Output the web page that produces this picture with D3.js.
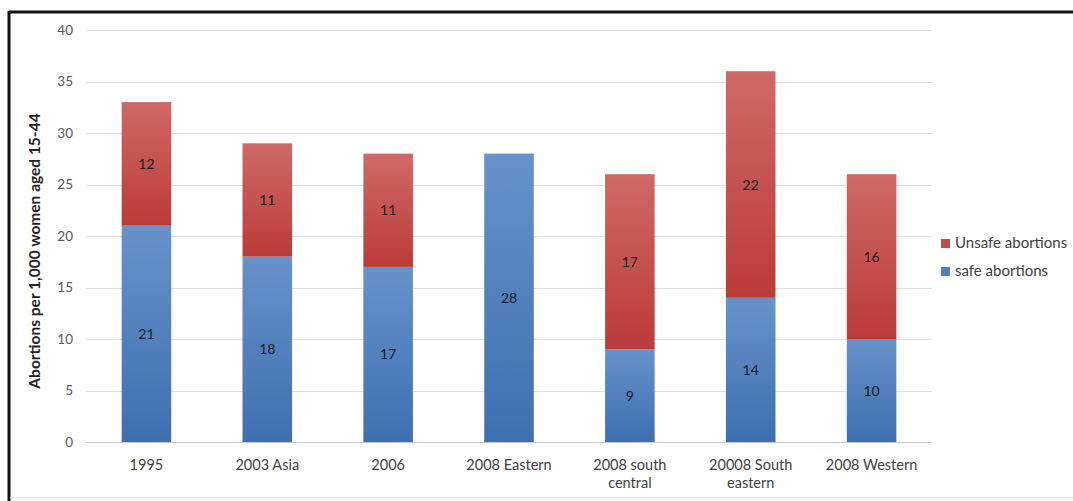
<!DOCTYPE html>
<html><head><meta charset="utf-8">
<script src="https://cdn.jsdelivr.net/npm/d3@7"></script>
<style>body{margin:0;background:#fff}svg{display:block;font-family:Lato,"Open Sans",sans-serif}</style>
</head><body><svg id="c" width="1073" height="501"></svg>
<script>
const categories = [["1995"],["2003 Asia"],["2006"],["2008 Eastern"],["2008 south","central"],["20008 South","eastern"],["2008 Western"]];
const safeValues = [21,18,17,28,9,14,10];
const unsafeValues = [12,11,11,0,17,22,16];
const yTicks = [0,5,10,15,20,25,30,35,40];
const seriesNames = ["Unsafe abortions","safe abortions"];

const svg = d3.select("#c");
const defs = svg.append("defs");
function grad(id, top, bot){
  const g = defs.append("linearGradient").attr("id",id).attr("x1",0).attr("y1",0).attr("x2",0).attr("y2",1);
  g.append("stop").attr("offset","0%").attr("stop-color",top);
  g.append("stop").attr("offset","100%").attr("stop-color",bot);
}
grad("gRed","#cf6966","#bb3b38");
grad("gBlue","#6792cb","#3e6fb0");

// frame
svg.append("line").attr("x1",9).attr("x2",1073).attr("y1",12).attr("y2",12).attr("stroke","#111").attr("stroke-width",3);
svg.append("line").attr("x1",9).attr("x2",9).attr("y1",11).attr("y2",501).attr("stroke","#111").attr("stroke-width",3);
svg.append("line").attr("x1",10).attr("x2",1073).attr("y1",497.5).attr("y2",497.5).attr("stroke","#e4e4e4").attr("stroke-width",1);

const x = d3.scaleBand().domain(d3.range(categories.length)).range([86,932]).paddingInner(0.59).paddingOuter(0.295);
const y = d3.scaleLinear().domain([0,40]).range([442,30]);

// grid
svg.append("g").selectAll("line").data(yTicks).join("line")
  .attr("x1",86).attr("x2",932).attr("y1",d=>Math.round(y(d))+0.5).attr("y2",d=>Math.round(y(d))+0.5)
  .attr("stroke",d=>d===0?"#c8c8c8":"#e0e0e0").attr("stroke-width",1);

// y axis labels
const yAxis = d3.axisLeft(y).tickValues(yTicks).tickSize(0).tickPadding(0);
const ya = svg.append("g").attr("transform","translate(73,0)").call(yAxis);
ya.select(".domain").remove();
ya.selectAll("text").attr("font-size",13.5).attr("fill","#595959").attr("font-family","Lato,sans-serif");

// y title
svg.append("text").attr("transform","translate(40,251) rotate(-90)").attr("text-anchor","middle")
  .attr("font-size",15.5).attr("font-weight","bold").attr("fill","#222").text("Abortions per 1,000 women aged 15-44");

// bars
const bars = svg.append("g");
categories.forEach((c,i)=>{
  const s = safeValues[i], u = unsafeValues[i];
  bars.append("rect").attr("x",x(i)).attr("width",x.bandwidth()).attr("y",y(s)).attr("height",y(0)-y(s)).attr("fill","url(#gBlue)");
  if(u>0) bars.append("rect").attr("x",x(i)).attr("width",x.bandwidth()).attr("y",y(s+u)).attr("height",y(s)-y(s+u)).attr("fill","url(#gRed)");
  bars.append("text").attr("x",x(i)+x.bandwidth()/2).attr("y",y(s/2)+5).attr("text-anchor","middle").attr("font-size",14).attr("fill","#1a1a1a").text(s);
  if(u>0) bars.append("text").attr("x",x(i)+x.bandwidth()/2).attr("y",y(s+u/2)+5).attr("text-anchor","middle").attr("font-size",14).attr("fill","#1a1a1a").text(u);
});

// x labels
const xl = svg.append("g");
categories.forEach((c,i)=>{
  const t = xl.append("text").attr("x",x(i)+x.bandwidth()/2).attr("y",470).attr("text-anchor","middle").attr("font-size",14.5).attr("fill","#404040");
  c.forEach((line,j)=>t.append("tspan").attr("x",x(i)+x.bandwidth()/2).attr("dy",j===0?0:18).text(line));
});

// legend
const leg = svg.append("g");
const legColors = ["#c0504d","#4f81bd"];
seriesNames.forEach((n,i)=>{
  leg.append("rect").attr("x",941).attr("y",239+i*28).attr("width",9).attr("height",9).attr("fill",legColors[i]);
  leg.append("text").attr("x",955).attr("y",248+i*28).attr("font-size",15).attr("fill","#404040").text(n);
});
</script></body></html>
